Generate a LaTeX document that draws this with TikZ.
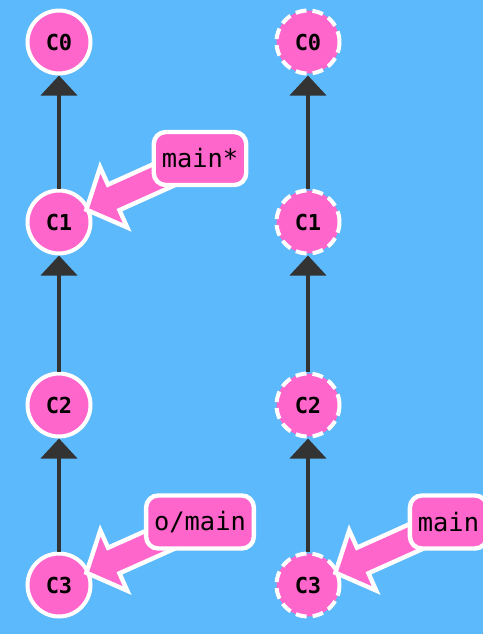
\documentclass[tikz,border=0pt]{standalone}
\usepackage{fontspec}
\setmonofont{DejaVu Sans Mono}
\usetikzlibrary{arrows.meta,calc}
\definecolor{gitbg}{HTML}{5CB9FB}
\definecolor{gitpink}{HTML}{FF66CC}
\definecolor{gitdark}{HTML}{333333}
\pgfdeclarelayer{back}\pgfdeclarelayer{top}
\pgfsetlayers{back,main,top}
% fat pointer from a branch label (#1) to a commit (#2)
\newcommand\refarrow[2]{%
 \coordinate (tip) at ($(#2.center)!15pt!(#1.center)$);
 \coordinate (hb) at ($(tip)!15pt!(#1.center)$);
 \draw[ptr] ($(hb)!7pt!90:(#1.center)$)--($(hb)!16.5pt!90:(#1.center)$)--(tip)
  --($(hb)!16.5pt!-90:(#1.center)$)--($(hb)!7pt!-90:(#1.center)$)
  --($(#1.center)!7pt!90:(hb)$)--($(#1.center)!7pt!-90:(hb)$)--cycle;}

\begin{document}
\begin{tikzpicture}[x=.5pt,y=-.5pt,
 commit/.style={circle,draw=white,fill=gitpink,line width=2pt,minimum size=31.5pt,inner sep=0pt,font=\ttfamily\bfseries\fontsize{11}{12}\selectfont},
 gone/.style={commit,dash pattern=on 5.5pt off 3pt},
 branch/.style={draw=white,fill=gitpink,line width=2.2pt,rounded corners=6pt,minimum height=26.5pt,inner xsep=4pt,font=\ttfamily\fontsize{12.7}{14}\selectfont},
 parent/.style={-{Triangle[width=18pt,length=10pt]},draw=gitdark,line width=2pt},
 ptr/.style={fill=gitpink,draw=white,line width=2.2pt,line join=miter}]
\begin{pgfonlayer}{back}
\fill[gitbg] (0,0) rectangle (483,634);
\end{pgfonlayer}
\useasboundingbox (0,0) rectangle (483,634);
% local repository
\node[commit] (L0) at (59,42) {C0};
\node[commit] (L1) at (59,222) {C1};
\node[commit] (L2) at (59,405) {C2};
\node[commit] (L3) at (59,585) {C3};
\draw[parent] (L1)--(L0);
\draw[parent] (L2)--(L1);
\draw[parent] (L3)--(L2);
% remote repository
\node[gone] (R0) at (308,42) {C0};
\node[gone] (R1) at (308,222) {C1};
\node[gone] (R2) at (308,405) {C2};
\node[gone] (R3) at (308,585) {C3};
\draw[parent] (R1)--(R0);
\draw[parent] (R2)--(R1);
\draw[parent] (R3)--(R2);
\begin{pgfonlayer}{top}
\node[branch] (main) at (200,158.5) {main*};
\node[branch] (omain) at (200,522) {o/main};
\node[branch] (rmain) at (448.5,522) {main};
\end{pgfonlayer}
\refarrow{main}{L1}
\refarrow{omain}{L3}
\refarrow{rmain}{R3}
\end{tikzpicture}
\end{document}
